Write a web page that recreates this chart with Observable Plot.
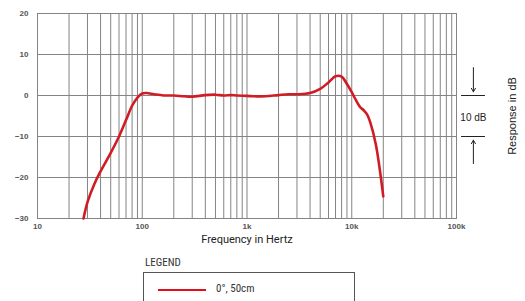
<!DOCTYPE html>
<html><head><meta charset="utf-8">
<script src="https://cdn.jsdelivr.net/npm/d3@7"></script>
<script src="https://cdn.jsdelivr.net/npm/@observablehq/plot@0.6"></script>
<style>
body{margin:0;background:#fff;font-family:"Liberation Sans",Arial,sans-serif;}
#wrap{position:relative;width:525px;height:301px;overflow:hidden;}
#legend-title{position:absolute;left:145px;top:256px;font-size:11px;color:#333;font-family:"Liberation Sans Narrow","Roboto Condensed",Roboto,sans-serif;}
#legend-box{position:absolute;left:143px;top:272px;width:212px;height:40px;border:1px solid #555;box-sizing:border-box;}
#legend-line{position:absolute;left:14px;top:16px;width:48px;height:0;border-top:2px solid #e0101c;}
#legend-text{position:absolute;left:72px;top:9px;font-size:11px;color:#333;font-family:"Liberation Sans Narrow","Roboto Condensed",Roboto,sans-serif;}
</style></head>
<body><div id="wrap"><div id="chart"></div>
<div id="legend-title">LEGEND</div>
<div id="legend-box"><div id="legend-line"></div><div id="legend-text">0°, 50cm</div></div>
</div>
<script>
const freqs = [27.5,30,35,40,50,60,70,80,90,100,110,130,160,200,250,300,400,500,600,700,800,1000,1200,1500,2000,2500,3000,4000,5000,6000,7000,8000,9000,10000,11000,12000,13000,14000,15000,17000,20000];
const levels = [-30,-26,-21.5,-18.5,-14,-10,-6,-2.5,-0.5,0.5,0.6,0.3,0,0,-0.2,-0.3,0.1,0.2,0,0.1,0,-0.1,-0.2,-0.2,0.1,0.3,0.3,0.6,1.6,3.2,4.7,4.6,2.8,0.8,-1.2,-2.8,-3.6,-4.6,-6.5,-12,-24.6];
const xTicks = [10,100,1000,10000,100000];
const xTickLabels = ["10","100","1k","10k","100k"];
const yTicks = [-30,-20,-10,0,10,20];

const gridX = [];
for (let d = 10; d < 100000; d *= 10) for (let m = 1; m <= 9; m++) gridX.push(d*m);
gridX.push(100000);
const curve = freqs.map((f,i)=>({f, v: levels[i]}));

const chart = Plot.plot({
  width: 525, height: 250,
  marginLeft: 37, marginRight: 69, marginTop: 13, marginBottom: 32,
  style: {fontFamily: "Liberation Sans, Arial, sans-serif", background: "#fff"},
  x: {type: "log", domain: [10, 100000], ticks: xTicks, tickFormat: (d)=>xTickLabels[xTicks.indexOf(d)],
      label: null},
  y: {domain: [-30, 20], ticks: yTicks, label: null},
  marks: [
    Plot.ruleX(gridX, {stroke: "#848484", strokeWidth: 1, strokeOpacity: 1}),
    Plot.ruleY(yTicks, {stroke: "#848484", strokeWidth: 1}),
    Plot.frame({stroke: "#848484"}),
    Plot.axisX(xTicks, {tickSize: 0, tickPadding: 5, fontSize: 8, fill: "#555", fontWeight: "bold", tickFormat: (d)=>xTickLabels[xTicks.indexOf(d)]}),
    Plot.axisY(yTicks, {tickSize: 0, tickPadding: 9, fontSize: 8, fill: "#555", fontWeight: "bold"}),
    Plot.text(["Frequency in Hertz"], {frameAnchor: "bottom", dy: 24, fontSize: 11, fill: "#222", fontFamily: "Liberation Sans Narrow, Roboto, sans-serif"}),
    Plot.text(["Response in dB"], {frameAnchor: "right", textAnchor: "middle", y: -5, dx: 56, rotate: -90, fontSize: 11, fill: "#222"}),
    Plot.ruleY([0, -10], {x1: 111700, x2: 189000, stroke: "#222", strokeWidth: 1}),
    Plot.arrow([{y1: 6.8, y2: 0.9}, {y1: -16.6, y2: -10.9}], {x1: 145000, x2: 145000, y1: "y1", y2: "y2", stroke: "#222", strokeWidth: 1, headLength: 6, bend: 0}),
    Plot.text(["10 dB"], {x: 145000, y: -5.4, fontSize: 10, fill: "#222"}),
    Plot.line(curve, {x: "f", y: "v", stroke: "#d01c24", strokeWidth: 2.6, curve: "catmull-rom"})
  ]
});
document.getElementById("chart").appendChild(chart);
</script></body></html>
